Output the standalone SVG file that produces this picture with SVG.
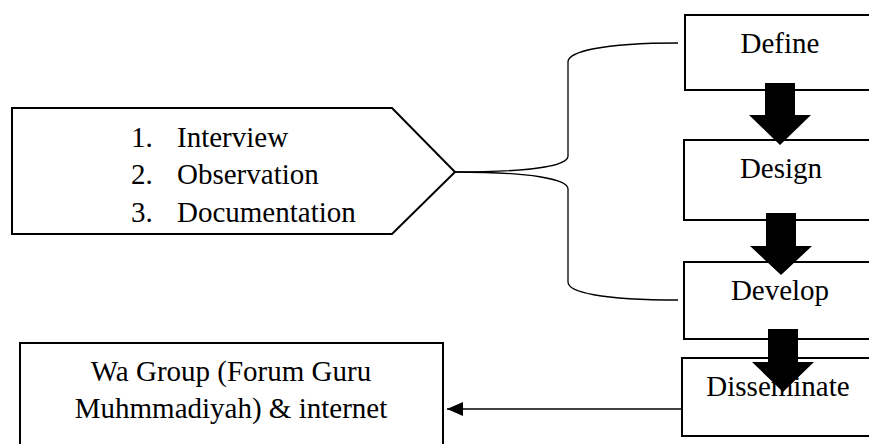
<svg xmlns="http://www.w3.org/2000/svg" width="869" height="444" viewBox="0 0 869 444">
<style>
.box{fill:#fff;stroke:#000;stroke-width:2}
.t{font-family:"Liberation Serif","Times New Roman",serif;font-size:29px;fill:#000}
.m{text-anchor:middle}
.ln{fill:none;stroke:#000;stroke-width:1.3}
.blk{fill:#000;stroke:none}
</style>
<defs>
<marker id="ah" viewBox="0 0 16 14" refX="16" refY="7" markerWidth="16" markerHeight="14" markerUnits="userSpaceOnUse" orient="auto">
<path d="M0,0 L16,7 L0,14 Z" fill="#000"/>
</marker>
</defs>
<g id="methods">
<path class="box" d="M12,108 L392,108 L455,172 L392,234 L12,234 Z"/>
<text class="t" x="131" y="147">1.</text><text class="t" x="177" y="147">Interview</text>
<text class="t" x="131" y="184">2.</text><text class="t" x="177" y="184">Observation</text>
<text class="t" x="131" y="222">3.</text><text class="t" x="177" y="222">Documentation</text>
</g>
<g id="define">
<rect class="box" x="685" y="15" width="200" height="75"/>
<text class="t m" x="780" y="53">Define</text>
</g>
<g id="design">
<rect class="box" x="684" y="140" width="200" height="80"/>
<text class="t m" x="781" y="178">Design</text>
</g>
<g id="develop">
<rect class="box" x="684" y="262" width="200" height="77"/>
<text class="t m" x="780" y="300">Develop</text>
</g>
<g id="disseminate">
<rect class="box" x="682" y="358" width="200" height="78"/>
<text class="t m" x="778" y="396">Disseminate</text>
</g>
<g id="wagroup">
<rect class="box" x="20" y="343" width="423" height="110"/>
<text class="t m" x="231" y="381">Wa Group (Forum Guru</text>
<text class="t m" x="231" y="418">Muhmmadiyah) &amp; internet</text>
</g>
<g id="connectors">
<path class="ln" d="M455,172 C530,172 568,166 568,156 L568,62 C568,52 600,43 678,43"/>
<path class="ln" d="M455,172 C530,172 568,179 568,189 L568,282 C568,292 600,300 678,300"/>
<line class="ln" x1="682" y1="409" x2="447" y2="409" marker-end="url(#ah)"/>
<path class="blk" d="M765,83 L795,83 L795,115 L811,115 L780,145 L749,115 L765,115 Z"/>
<path class="blk" d="M766,213 L796,213 L796,246 L812,246 L781,275 L750,246 L766,246 Z"/>
<path class="blk" d="M768,329 L798,329 L798,362 L814,362 L783,392 L752,362 L768,362 Z"/>
</g>
</svg>
